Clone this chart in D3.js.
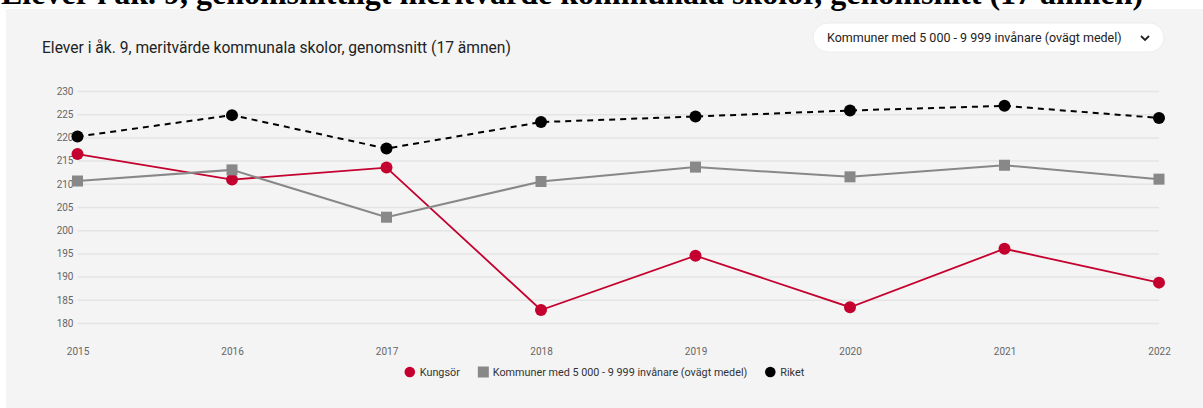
<!DOCTYPE html>
<html>
<head>
<meta charset="utf-8">
<script src="https://cdn.jsdelivr.net/npm/d3@7/dist/d3.min.js"></script>
<style>
  body { margin: 0; background: #fff; }
  svg { display: block; }
</style>
</head>
<body>
<svg id="chart" width="1203" height="408"></svg>
<script>
const years = ["2015", "2016", "2017", "2018", "2019", "2020", "2021", "2022"];
const kungsor = [216.4, 210.9, 213.5, 182.8, 194.5, 183.4, 196.0, 188.7];
const kommuner = [210.6, 213.0, 202.8, 210.5, 213.6, 211.5, 214.0, 211.0];
const riket = [220.2, 224.8, 217.6, 223.3, 224.5, 225.8, 226.8, 224.2];
const yTicks = [180, 185, 190, 195, 200, 205, 210, 215, 220, 225, 230];

const pageTitle = "Elever i åk. 9, genomsnittligt meritvärde kommunala skolor, genomsnitt (17 ämnen)";
const chartTitle = "Elever i åk. 9, meritvärde kommunala skolor, genomsnitt (17 ämnen)";
const dropdownLabel = "Kommuner med 5 000 - 9 999 invånare (ovägt medel)";

const series = [
  { name: "Kungsör", values: kungsor, color: "#c4002f", shape: "circle", dash: null, width: 1.8 },
  { name: "Kommuner med 5 000 - 9 999 invånare (ovägt medel)", values: kommuner, color: "#888888", shape: "square", dash: null, width: 2 },
  { name: "Riket", values: riket, color: "#000000", shape: "circle", dash: "6,5", width: 2 }
];

const svg = d3.select("#chart");
const font = "Roboto, 'Noto Sans', sans-serif";

// panel background
svg.append("rect").attr("x", 6).attr("y", 9).attr("width", 1197).attr("height", 399).attr("fill", "#f4f4f4");

// page heading, mostly hidden above the top edge like in the screenshot
svg.append("text")
  .attr("x", 1).attr("y", 4)
  .style("font-family", "'Liberation Serif', 'Times New Roman', serif")
  .style("font-weight", "bold")
  .style("font-size", "32px")
  .attr("fill", "#000")
  .text(pageTitle);

svg.append("text")
  .attr("x", 42).attr("y", 53)
  .style("font-family", font)
  .style("font-size", "15.6px")
  .attr("fill", "#222")
  .text(chartTitle);

// dropdown pill
const dd = svg.append("g");
dd.append("rect").attr("x", 813).attr("y", 23).attr("width", 351).attr("height", 29)
  .attr("rx", 14.5).attr("fill", "#fff").attr("stroke", "#ececec");
dd.append("text").attr("x", 827).attr("y", 42)
  .style("font-family", font).style("font-size", "12.5px").attr("fill", "#222")
  .text(dropdownLabel);
dd.append("path").attr("d", "M1141,36 L1145,40 L1149,36")
  .attr("fill", "none").attr("stroke", "#222").attr("stroke-width", 1.8);

const x = d3.scalePoint().domain(years).range([77.5, 1159]);
const y = d3.scaleLinear().domain([180, 230]).range([323, 91]);

// grid + y labels
const yAxis = svg.append("g").attr("transform", "translate(77.5,0)")
  .call(d3.axisLeft(y).tickValues(yTicks).tickSize(-(1159 - 77.5)).tickPadding(4));
yAxis.select(".domain").remove();
yAxis.selectAll(".tick line").attr("stroke", "#e4e4e4").attr("stroke-width", 1.5);
yAxis.selectAll(".tick text").attr("fill", "#666").style("font-family", font).style("font-size", "10px");

// x labels
const xAxis = svg.append("g").attr("transform", "translate(0,340)")
  .call(d3.axisBottom(x).tickSize(0).tickPadding(8));
xAxis.select(".domain").remove();
xAxis.selectAll(".tick text").attr("fill", "#666").style("font-family", font).style("font-size", "10px");

const line = d3.line().x((d, i) => x(years[i])).y(d => y(d));

series.forEach(s => {
  svg.append("path").datum(s.values)
    .attr("d", line).attr("fill", "none")
    .attr("stroke", s.color).attr("stroke-width", s.width)
    .attr("stroke-dasharray", s.dash);
  const g = svg.append("g");
  if (s.shape === "circle") {
    g.selectAll("circle").data(s.values).join("circle")
      .attr("cx", (d, i) => x(years[i])).attr("cy", d => y(d)).attr("r", 6)
      .attr("fill", s.color);
  } else {
    g.selectAll("rect").data(s.values).join("rect")
      .attr("x", (d, i) => x(years[i]) - 5.5).attr("y", d => y(d) - 5.5)
      .attr("width", 11).attr("height", 11).attr("fill", s.color);
  }
});

// legend centered on panel
const legend = svg.append("g");
let lx = 0;
series.forEach(s => {
  const it = legend.append("g").attr("transform", `translate(${lx},0)`);
  if (s.shape === "circle") it.append("circle").attr("cx", 5).attr("cy", 0).attr("r", 5.3).attr("fill", s.color);
  else it.append("rect").attr("x", 0).attr("y", -5.5).attr("width", 11).attr("height", 11).attr("fill", s.color);
  const t = it.append("text").attr("x", 15).attr("y", 3.8)
    .style("font-family", font).style("font-size", "10.8px").attr("fill", "#333").text(s.name);
  lx += 15 + t.node().getComputedTextLength() + 18;
});
const totalW = lx - 18;
legend.attr("transform", `translate(${604.5 - totalW / 2},372)`);
</script>
</body>
</html>
